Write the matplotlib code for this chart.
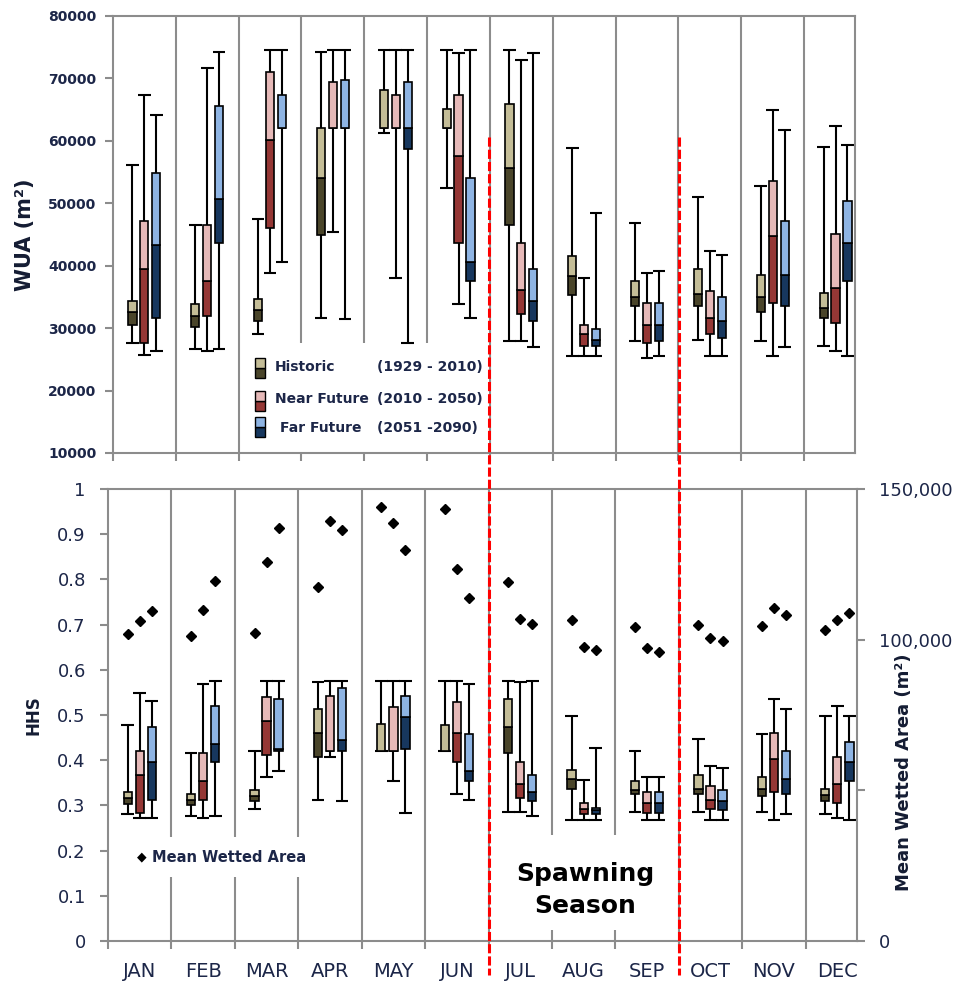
import matplotlib
matplotlib.use('Agg')
import matplotlib.pyplot as plt
from matplotlib.lines import Line2D
from matplotlib.patches import Rectangle

months = ['JAN', 'FEB', 'MAR', 'APR', 'MAY', 'JUN', 'JUL', 'AUG', 'SEP', 'OCT', 'NOV', 'DEC']
series_names = ['Historic', 'Near Future', 'Far Future']
periods = ['(1929 - 2010)', '(2010 - 2050)', '(2051 -2090)']
light = ['#c4bd97', '#e6b9b8', '#8eb4e3']
dark = ['#4a452a', '#953735', '#17375e']

# (min, q1, median, q3, max) per month
wua_historic = [(27600, 30500, 32600, 34400, 56100), (26600, 30200, 32000, 33800, 46500),
                (29100, 31100, 32900, 34700, 47500), (31700, 45000, 54000, 62100, 74200),
                (61200, 62000, 62000, 68100, 74500), (52500, 62000, 62000, 65100, 74500),
                (27900, 46500, 55700, 65900, 74500), (25500, 35300, 38300, 41500, 58800),
                (27900, 33500, 35000, 37600, 46900), (28100, 33500, 35500, 39400, 51000),
                (27900, 32600, 35000, 38500, 52800), (27200, 31700, 33200, 35600, 59000)]
wua_near = [(25700, 27600, 39400, 47200, 67400), (26400, 32000, 37600, 46500, 71600),
            (38800, 46000, 60200, 71000, 74500), (45400, 62000, 62000, 69500, 74500),
            (38000, 62000, 62000, 67400, 74500), (33800, 43600, 57600, 67400, 74000),
            (27900, 32300, 36100, 43600, 73000), (25500, 27200, 29000, 30500, 38000),
            (25200, 27600, 30500, 34100, 38800), (25500, 29000, 31600, 35900, 42400),
            (25500, 34100, 44800, 53500, 65000), (26400, 30900, 36500, 45100, 62400)]
wua_far = [(26400, 31700, 43300, 54900, 64100), (26600, 43600, 50700, 65600, 74200),
           (40600, 62000, 62000, 67400, 74500), (31400, 62000, 62000, 69800, 74500),
           (27600, 58700, 62000, 69500, 74500), (31700, 37600, 40600, 54000, 74500),
           (26900, 31100, 34400, 39400, 74000), (25500, 27200, 28100, 29900, 48400),
           (25500, 27900, 30500, 34100, 39200), (25500, 28400, 31100, 35000, 41700),
           (26900, 33500, 38500, 47200, 61700), (25500, 37600, 43600, 50400, 59300)]

hhs_historic = [(0.280, 0.304, 0.317, 0.330, 0.478), (0.277, 0.300, 0.313, 0.326, 0.416),
                (0.293, 0.309, 0.321, 0.334, 0.420), (0.313, 0.407, 0.461, 0.514, 0.572),
                (0.420, 0.420, 0.420, 0.481, 0.576), (0.420, 0.420, 0.420, 0.478, 0.576),
                (0.286, 0.416, 0.474, 0.535, 0.576), (0.267, 0.337, 0.359, 0.379, 0.498),
                (0.286, 0.325, 0.334, 0.354, 0.420), (0.286, 0.326, 0.337, 0.367, 0.446),
                (0.286, 0.320, 0.337, 0.363, 0.457), (0.280, 0.309, 0.323, 0.337, 0.498)]
hhs_near = [(0.272, 0.284, 0.367, 0.420, 0.548), (0.272, 0.313, 0.354, 0.416, 0.568),
            (0.363, 0.411, 0.486, 0.539, 0.576), (0.407, 0.420, 0.420, 0.542, 0.576),
            (0.354, 0.420, 0.420, 0.518, 0.576), (0.326, 0.395, 0.461, 0.528, 0.576),
            (0.286, 0.317, 0.347, 0.395, 0.572), (0.267, 0.280, 0.293, 0.306, 0.357),
            (0.267, 0.284, 0.306, 0.330, 0.363), (0.267, 0.293, 0.313, 0.342, 0.388),
            (0.267, 0.330, 0.402, 0.461, 0.535), (0.272, 0.306, 0.347, 0.407, 0.520)]
hhs_far = [(0.272, 0.311, 0.395, 0.474, 0.531), (0.277, 0.395, 0.435, 0.520, 0.576),
           (0.376, 0.420, 0.424, 0.535, 0.576), (0.309, 0.420, 0.444, 0.560, 0.576),
           (0.284, 0.424, 0.496, 0.542, 0.576), (0.313, 0.354, 0.376, 0.457, 0.568),
           (0.277, 0.309, 0.330, 0.367, 0.576), (0.267, 0.280, 0.289, 0.295, 0.428),
           (0.267, 0.284, 0.306, 0.330, 0.363), (0.267, 0.289, 0.309, 0.334, 0.383),
           (0.280, 0.326, 0.358, 0.420, 0.514), (0.267, 0.354, 0.395, 0.441, 0.498)]

# mean wetted area (m2)
mwa_historic = [102000, 101300, 102200, 117400, 144000, 143500, 119200, 106400, 104100, 104800, 104600, 103200]
mwa_near = [106300, 109800, 125900, 139400, 138600, 123300, 107000, 97500, 97400, 100500, 110500, 106500]
mwa_far = [109600, 119600, 137200, 136400, 129600, 113700, 105300, 96600, 96000, 99600, 108300, 109000]

grey = '#8c8c8c'
navy = '#1c2648'
offsets = [-0.19, 0.0, 0.19]
bw = 0.13
cap = 0.2
xmax = 11.81

W, H = 965, 986
fig = plt.figure(figsize=(9.65, 9.86), dpi=100)
ax1 = fig.add_axes([113 / W, 1 - 453 / H, 742 / W, 437 / H])
ax2 = fig.add_axes([108 / W, 1 - 941 / H, 749 / W, 452 / H])


def draw_boxes(ax, data):
    for j, s in enumerate(data):
        for i, (lo, q1, md, q3, hi) in enumerate(s):
            x = i + 0.5 + offsets[j]
            ax.vlines(x, lo, hi, color='black', lw=1.5, zorder=2)
            ax.hlines([lo, hi], x - cap / 2, x + cap / 2, color='black', lw=1.5, zorder=2)
            ax.bar(x, md - q1, width=bw, bottom=q1, color=dark[j], edgecolor='black', lw=1.2, zorder=3)
            ax.bar(x, q3 - md, width=bw, bottom=md, color=light[j], edgecolor='black', lw=1.2, zorder=3)


def style(ax):
    for sp in ax.spines.values():
        sp.set_color(grey)
        sp.set_linewidth(1.5)
    ax.set_xlim(0, xmax)
    ax.set_xticks(range(0, 12))
    ax.tick_params(axis='x', which='major', length=6, width=1.5, color=grey, labelbottom=False)
    ax.tick_params(axis='y', length=6, width=1.5, color=grey)


# top panel: WUA
style(ax1)
ax1.set_ylim(10000, 80000)
ax1.set_yticks(range(10000, 80001, 10000))
ax1.tick_params(axis='y', labelsize=10, labelcolor=navy, pad=6)
for t in ax1.get_yticklabels():
    t.set_fontweight('bold')
ax1.vlines(range(1, 12), 10000, 80000, color=grey, lw=1.5, zorder=1)
ax1.add_patch(Rectangle((2.1, 10000), 3.88, 17600, facecolor='white', edgecolor='none', zorder=1.5))
draw_boxes(ax1, [wua_historic, wua_near, wua_far])

# legend of the top panel
leg_y = [367, 399, 428]
sw_top = [358, 391, 417]
lab_x = [275, 275, 280]
for j in range(3):
    y0 = sw_top[j]
    fig.add_artist(Rectangle((255 / W, 1 - (y0 + 20) / H), 10 / W, 10 / H,
                             facecolor=dark[j], edgecolor='black', lw=1))
    fig.add_artist(Rectangle((255 / W, 1 - (y0 + 10) / H), 10 / W, 10 / H,
                             facecolor=light[j], edgecolor='black', lw=1))
    fig.text(lab_x[j] / W, 1 - leg_y[j] / H, series_names[j], fontsize=10, fontweight='bold',
             color=navy, ha='left', va='center')
    fig.text(377 / W, 1 - leg_y[j] / H, periods[j], fontsize=10, fontweight='bold',
             color=navy, ha='left', va='center')

# bottom panel: HHS
style(ax2)
ax2.set_ylim(0, 1)
ax2.set_yticks([i / 10 for i in range(11)])
ax2.set_yticklabels(['0'] + ['0.%d' % i for i in range(1, 10)] + ['1'])
ax2.tick_params(axis='y', labelsize=13, labelcolor=navy, pad=10)
ax2.set_xticks([i + 0.5 for i in range(12)], minor=True)
ax2.set_xticklabels(months, minor=True)
ax2.tick_params(axis='x', which='minor', length=0, labelsize=14, labelcolor=navy, pad=15)
ax2.vlines(range(1, 12), 0, 1, color=grey, lw=1.5, zorder=1)
ax2.add_patch(Rectangle((0.4, 0.142), 2.9, 0.088, facecolor='white', edgecolor='none', zorder=1.5))
ax2.add_patch(Rectangle((6.1, 0.024), 2.8, 0.211, facecolor='white', edgecolor='none', zorder=1.5))
draw_boxes(ax2, [hhs_historic, hhs_near, hhs_far])

ax3 = ax2.twinx()
ax3.set_ylim(0, 150000)
ax3.set_yticks([0, 50000, 100000, 150000])
ax3.set_yticklabels(['0', '', '100,000', '150,000'])
ax3.tick_params(axis='y', length=6, width=1.5, color=grey, labelsize=13, labelcolor=navy, pad=10)
for sp in ax3.spines.values():
    sp.set_visible(False)
x_pos = range(12)
for j, mwa in enumerate([mwa_historic, mwa_near, mwa_far]):
    ax3.plot([i + 0.5 + offsets[j] for i in x_pos], mwa, 'D', color='black', ms=5.5, zorder=4)

fig.text(142 / W, 1 - 857 / H, '\u25c6', fontsize=9, color='black', ha='center', va='center')
fig.text(152 / W, 1 - 857 / H, 'Mean Wetted Area', fontsize=10.5, fontweight='bold',
         color=navy, ha='left', va='center')
fig.text(585 / W, 1 - 890 / H, 'Spawning\nSeason', fontsize=18, fontweight='bold',
         color='black', ha='center', va='center', linespacing=1.45)

# axis titles
fig.text(25 / W, 1 - 235 / H, 'WUA (m\u00b2)', rotation=90, fontsize=15, fontweight='bold',
         color='#141c33', ha='center', va='center')
fig.text(33 / W, 1 - 715 / H, 'HHS', rotation=90, fontsize=12, fontweight='bold',
         color='#141c33', ha='center', va='center')
fig.text(904 / W, 1 - 772 / H, 'Mean Wetted Area (m\u00b2)', rotation=90, fontsize=13,
         fontweight='bold', color='#141c33', ha='center', va='center')

# spawning season limits
for xp in [489, 679]:
    fig.add_artist(Line2D([xp / W, xp / W], [1 - 137 / H, 1 - 975 / H], color='red', lw=2.2,
                          linestyle=(0, (3, 1)), zorder=10))

fig.savefig('out.png', dpi=100)
